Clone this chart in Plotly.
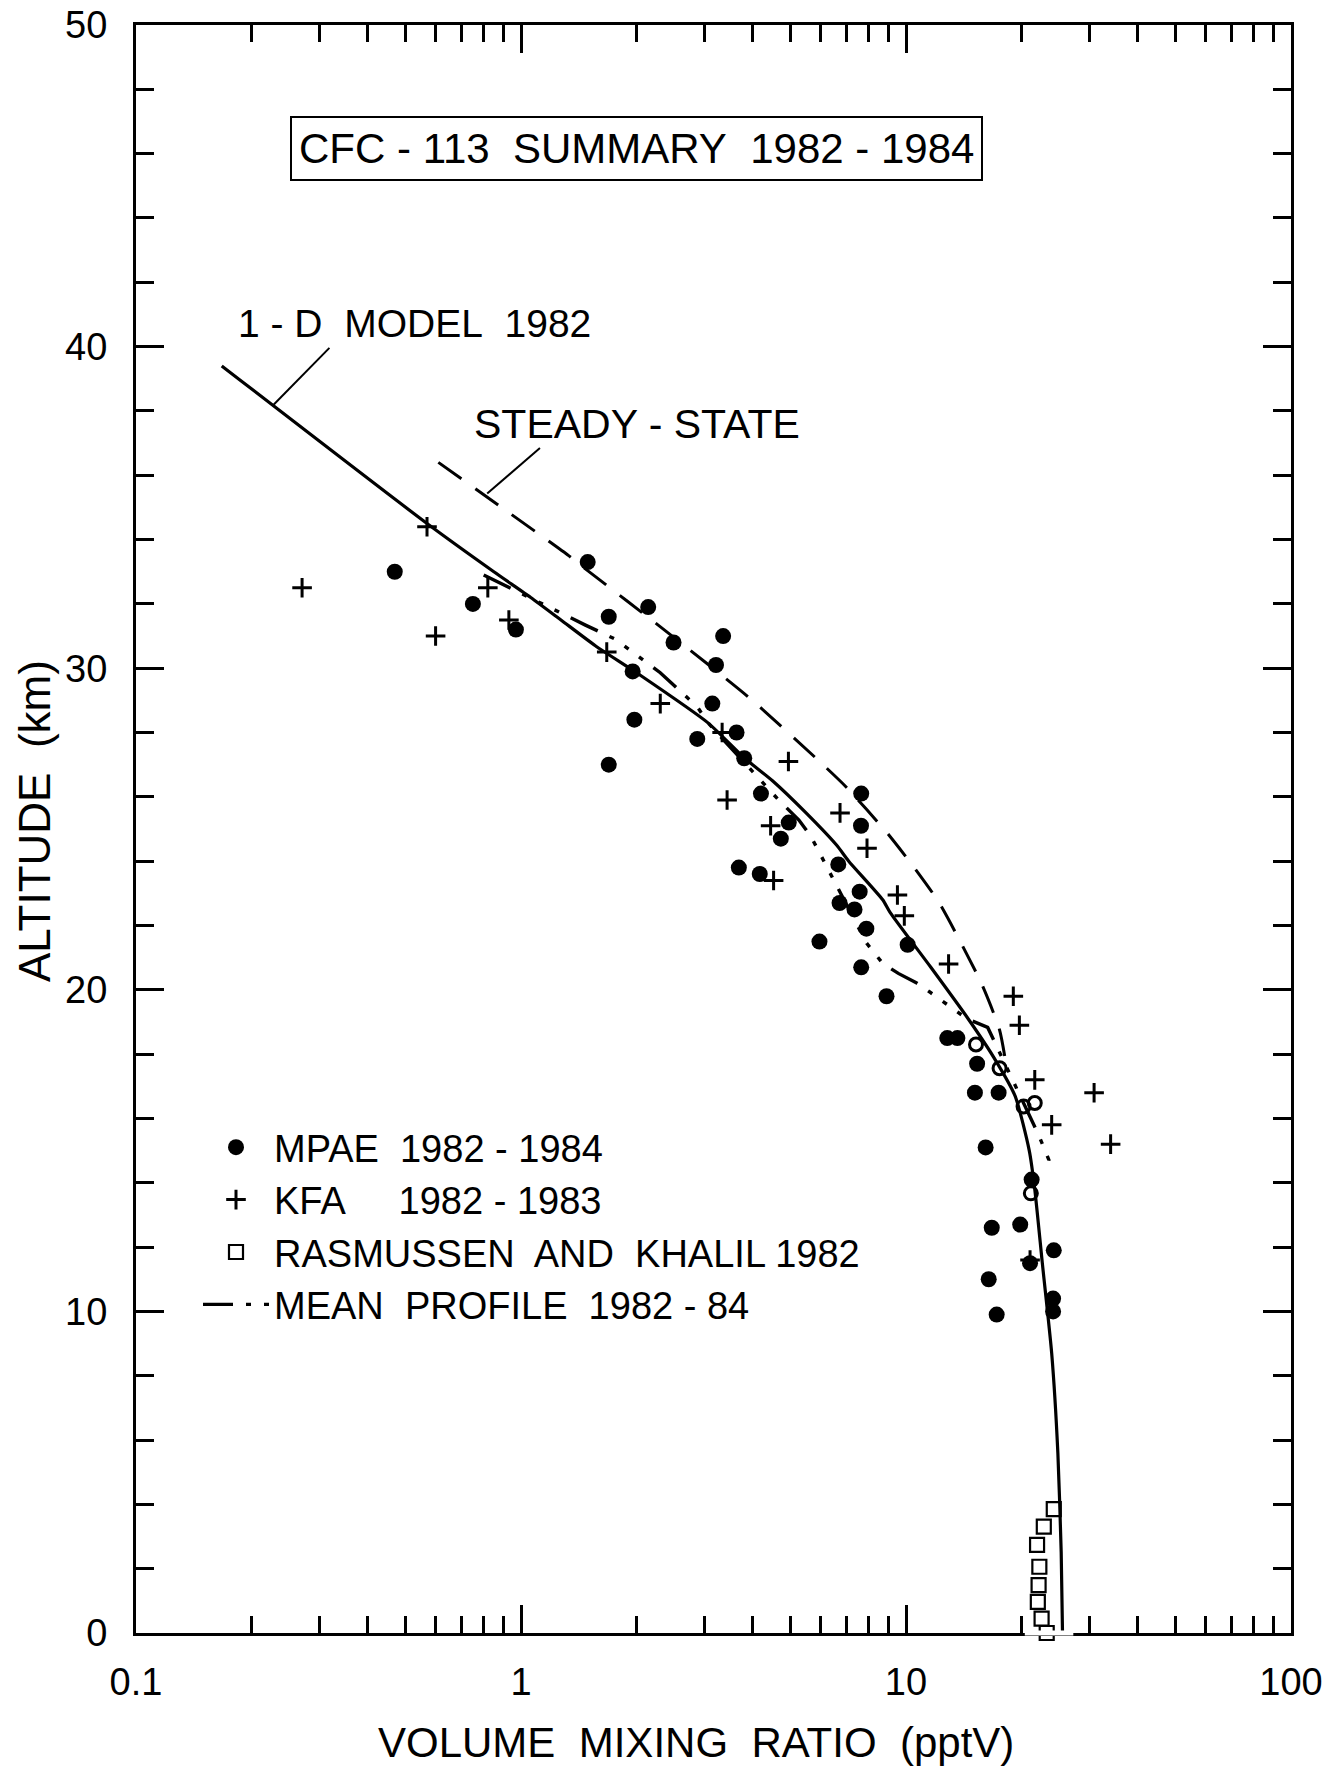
import math
import plotly.graph_objects as go

# ---------------- data ----------------
# 1-D model 1982 (solid line)
model_alt = [39.4, 34.5, 33.0, 32.2, 31.5, 30.7, 29.8, 28.3, 27.2, 26.5, 25.5,
             24.5, 24.0, 22.8, 22.4, 20.7, 19.1, 17.9, 16.7, 15.0, 13.8, 11.5, 8.7,
             5.6, 2.5, 0.0]
model_vmr = [0.167, 0.57, 0.85, 1.06, 1.27, 1.56, 2.03, 3.06, 3.81, 4.5, 5.5,
             6.6, 7.1, 8.7, 9.1, 11.6, 14.5, 16.9, 19.2, 20.9, 21.6, 22.6, 23.9,
             24.8, 25.3, 25.5]

# Steady-state (dashed line)
steady_alt = [36.4, 33.5, 33.2, 31.1, 29.1, 27.2, 26.3, 24.9, 23.8, 22.7, 20.2, 18.75, 17.5]
steady_vmr = [0.61, 1.33, 1.43, 2.41, 3.9, 5.84, 7.0, 8.9, 10.5, 12.2, 15.7, 17.5, 18.3]

# Mean profile 1982-84 (dash-dot-dot-dot line)
mean_alt = [32.9, 31.65, 31.34, 30.9, 29.86, 28.8, 28.3, 25.9, 25.28, 24.76, 24.26,
            21.45, 20.82, 20.51, 20.23, 19.94, 19.1, 18.83, 15.49, 14.71, 14.42]
mean_vmr = [0.80, 1.30, 1.47, 1.76, 2.3, 2.87, 3.06, 4.67, 5.27, 5.67, 5.96,
            7.9, 8.7, 9.55, 10.6, 11.5, 14.4, 16.3, 22.1, 23.5, 23.3]

# MPAE 1982-1984 (filled circles)
mpae_vmr = [0.47, 0.75, 0.97, 1.49, 1.69, 1.95, 1.97, 1.69, 2.14, 2.49, 3.35, 3.21,
            3.14, 2.87, 3.63, 3.80, 4.2, 7.65, 7.64, 4.96, 4.73, 6.67, 3.68, 4.17,
            7.58, 6.72, 7.35, 7.89, 5.96, 10.1, 7.65, 8.9, 12.8, 13.6, 15.3, 15.1,
            17.4, 16.1, 21.2, 16.7, 19.8, 24.2, 21.0, 16.4, 17.2, 24.1, 24.1]
mpae_alt = [33.0, 32.0, 31.2, 33.3, 31.6, 29.9, 28.4, 27.0, 31.9, 30.8, 31.0, 30.1,
            28.9, 27.8, 28.0, 27.2, 26.1, 26.1, 25.1, 25.2, 24.7, 23.9, 23.8, 23.6,
            23.05, 22.7, 22.5, 21.9, 21.5, 21.4, 20.7, 19.8, 18.5, 18.5, 17.7, 16.8,
            16.8, 15.1, 14.1, 12.6, 12.7, 11.9, 11.5, 11.0, 9.9, 10.4, 10.0]

# KFA 1982-1983 (plus signs)
kfa_vmr = [0.27, 0.57, 0.60, 0.82, 0.93, 1.67, 2.30, 3.33, 4.95, 3.43, 6.74, 4.45,
           7.92, 4.53, 9.5, 9.9, 12.9, 19.0, 19.7, 21.6, 30.8, 23.9, 34.0, 21.0]
kfa_alt = [32.5, 34.4, 31.0, 32.5, 31.5, 30.5, 28.9, 28.0, 27.1, 25.9, 25.5, 25.1,
           24.4, 23.4, 22.95, 22.3, 20.8, 19.8, 18.9, 17.2, 16.8, 15.8, 15.2, 11.6]

# Rasmussen and Khalil 1982 (open squares)
rk_vmr = [24.2, 22.8, 21.9, 22.2, 22.1, 22.0, 22.5, 23.2]
rk_alt = [3.85, 3.31, 2.74, 2.06, 1.49, 0.97, 0.45, 0.0]

# unlabelled open symbols near the tropopause
open_vmr = [15.2, 17.5, 20.2, 21.6, 21.1]
open_alt = [18.3, 17.56, 16.37, 16.48, 13.67]

x_ticks = [0.1, 1, 10, 100]
x_ticktext = ["0.1", "1", "10", "100"]
x_minor = [m * d for d in (0.1, 1, 10) for m in range(2, 10)]
y_ticks = [0, 10, 20, 30, 40, 50]

FONT = "Liberation Sans, Arial, sans-serif"
W, H = 1329, 1769
L, R, T, B = 136, 38, 25, 136
XR = (-1, 2)
YR = (0, 50)
PW, PH = W - L - R, H - T - B


def px(v):  # data -> paper x
    return (math.log10(v) - XR[0]) / (XR[1] - XR[0])


def py(a):  # data -> paper y
    return (a - YR[0]) / (YR[1] - YR[0])


def fx(x):  # figure pixel -> paper x
    return (x - L) / PW


def fy(y):  # figure pixel -> paper y
    return (H - B - y) / PH


fig = go.Figure()

fig.add_trace(go.Scatter(x=model_vmr, y=model_alt, mode="lines", name="1-D MODEL 1982",
                         line=dict(color="black", width=3.2, shape="spline", smoothing=0.6),
                         showlegend=False))
fig.add_trace(go.Scatter(x=steady_vmr, y=steady_alt, mode="lines", name="STEADY-STATE",
                         line=dict(color="black", width=3, dash="28px,17px",
                                   shape="spline", smoothing=0.6),
                         showlegend=False))
fig.add_trace(go.Scatter(x=mpae_vmr, y=mpae_alt, mode="markers", name="MPAE\u00a0 1982 - 1984",
                         marker=dict(symbol="circle", size=16, color="black"),
                         legendrank=1))
fig.add_trace(go.Scatter(x=kfa_vmr, y=kfa_alt, mode="markers",
                         name="KFA\u00a0\u00a0\u00a0\u00a0 1982 - 1983",
                         marker=dict(symbol="cross-thin", size=14, color="black",
                                     line=dict(color="black", width=3)),
                         legendrank=2))
fig.add_trace(go.Scatter(x=rk_vmr, y=rk_alt, mode="markers",
                         name="RASMUSSEN\u00a0 AND\u00a0 KHALIL 1982",
                         marker=dict(symbol="square-open", size=14, color="black",
                                     line=dict(color="black", width=2.2)),
                         cliponaxis=False, legendrank=3))
fig.add_trace(go.Scatter(x=open_vmr, y=open_alt, mode="markers", name="open",
                         marker=dict(symbol="circle-open", size=13, color="black",
                                     line=dict(color="black", width=3)),
                         showlegend=False))
fig.add_trace(go.Scatter(x=mean_vmr, y=mean_alt, mode="lines",
                         name="MEAN\u00a0 PROFILE\u00a0 1982 - 84",
                         line=dict(color="black", width=3.4,
                                   dash="30px,13px,5px,13px,5px,13px,5px,13px"),
                         legendrank=4))

axis_common = dict(showline=True, linewidth=3, linecolor="black", mirror="ticks",
                   ticks="inside", ticklen=28, tickwidth=2.5, tickcolor="black",
                   showgrid=False, zeroline=False, automargin=False,
                   tickfont=dict(family=FONT, size=38, color="black"))

fig.update_xaxes(type="log", range=list(XR), tickmode="array", tickvals=x_ticks,
                 ticktext=x_ticktext, ticklabelstandoff=13,
                 minor=dict(tickmode="array", tickvals=x_minor, ticks="inside",
                            ticklen=17, tickwidth=2.5, tickcolor="black", showgrid=False),
                 **axis_common)
fig.update_yaxes(range=list(YR), tickmode="array", tickvals=y_ticks, ticklabelstandoff=18,
                 minor=dict(dtick=2, ticks="inside", ticklen=18, tickwidth=2.5,
                            tickcolor="black", showgrid=False),
                 **axis_common)

ann_common = dict(xref="paper", yref="paper", showarrow=False,
                  xanchor="center", yanchor="middle")
annotations = [
    dict(text="CFC - 113\u00a0 SUMMARY\u00a0 1982 - 1984", x=fx(636), y=fy(148),
         font=dict(family=FONT, size=42, color="black"), bordercolor="black",
         borderwidth=2, borderpad=7, bgcolor="white", **ann_common),
    dict(text="1 - D\u00a0 MODEL\u00a0 1982", x=fx(414), y=fy(324),
         font=dict(family=FONT, size=39, color="black"), **ann_common),
    dict(text="STEADY - STATE", x=fx(637), y=fy(424),
         font=dict(family=FONT, size=41, color="black"), **ann_common),
    dict(text="VOLUME\u00a0 MIXING\u00a0 RATIO\u00a0 (pptV)", x=fx(696), y=fy(1743),
         font=dict(family=FONT, size=42, color="black"), **ann_common),
    dict(text="ALTITUDE\u00a0 (km)", x=fx(34), y=fy(821), textangle=-90,
         font=dict(family=FONT, size=44, color="black"), **ann_common),
]

shapes = [
    # leader lines for the curve labels
    dict(type="line", xref="paper", yref="paper", x0=px(0.228), y0=py(38.2),
         x1=px(0.318), y1=py(39.96), line=dict(color="black", width=2)),
    dict(type="line", xref="paper", yref="paper", x0=px(0.817), y0=py(35.43),
         x1=px(1.12), y1=py(36.85), line=dict(color="black", width=2)),
    # break in the bottom axis line
    dict(type="rect", xref="paper", yref="paper", x0=px(20.35), x1=px(27.2),
         y0=-0.0016, y1=0.0016, line=dict(width=0), fillcolor="white", layer="above"),
]

fig.update_layout(
    width=W, height=H, margin=dict(l=L, r=R, t=T, b=B, pad=0),
    paper_bgcolor="white", plot_bgcolor="white",
    font=dict(family=FONT, color="black"),
    annotations=annotations, shapes=shapes,
    legend=dict(x=fx(198), y=fy(1116), xanchor="left", yanchor="top",
                bgcolor="rgba(0,0,0,0)", font=dict(family=FONT, size=38, color="black"),
                tracegroupgap=0, itemwidth=66),
    showlegend=True,
)

fig.write_html("out.html")
